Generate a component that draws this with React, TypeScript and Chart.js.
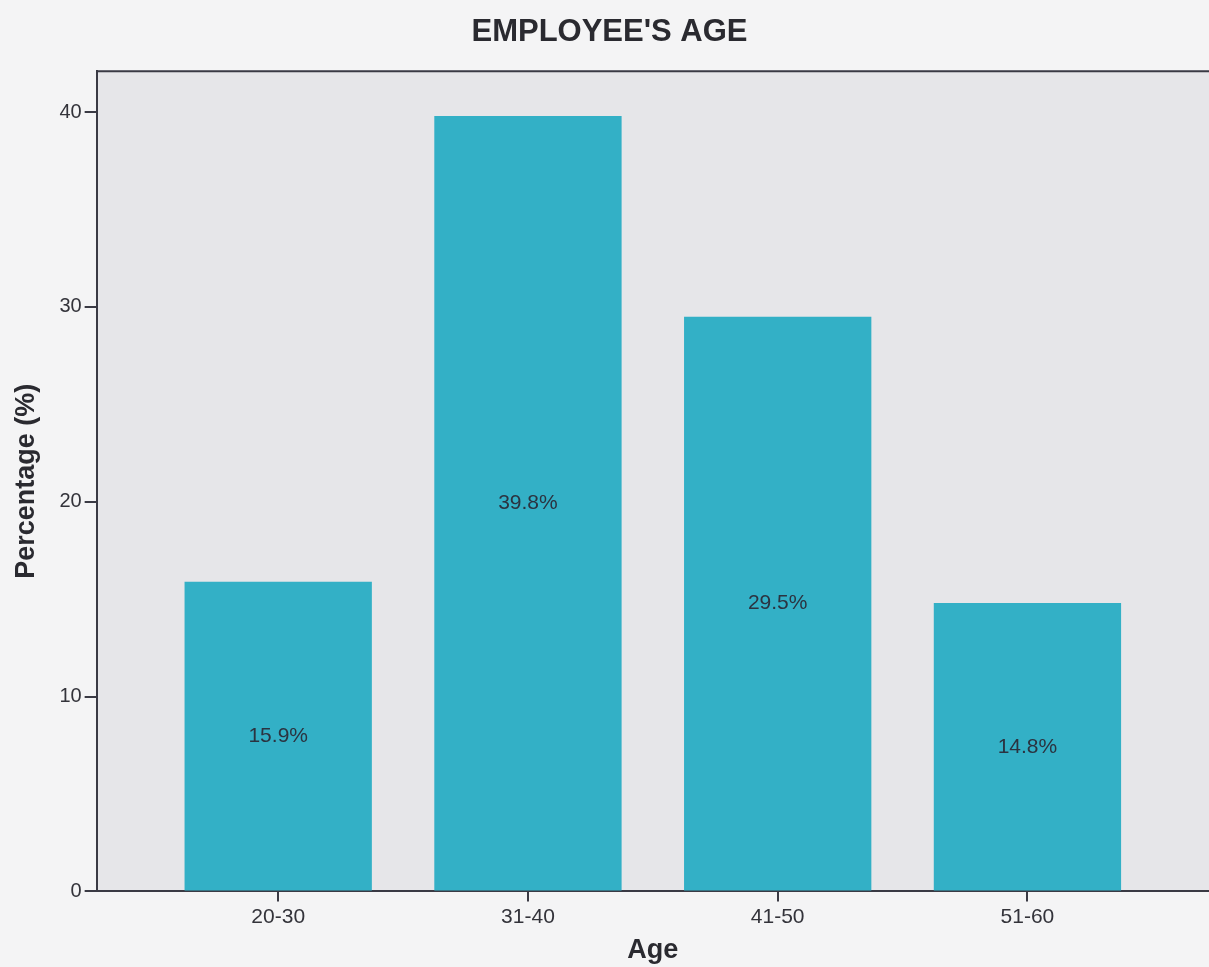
import React, { useEffect, useRef } from "react";
import { Chart, registerables } from "chart.js";

Chart.register(...registerables);

const categories = ["20-30", "31-40", "41-50", "51-60"];
const percentages = [15.9, 39.8, 29.5, 14.8];
const yTicks = [0, 10, 20, 30, 40];

const PLOT_BG = "#e6e6e9";
const PAGE_BG = "#f4f4f5";
const BAR_COLOR = "#33b0c6";
const AXIS_COLOR = "#3a3a44";
const FONT = "'Liberation Sans', Arial, sans-serif";

const backgroundPlugin = {
  id: "bgPlugin",
  beforeDraw(chart: any) {
    const { ctx, chartArea, width, height } = chart;
    ctx.save();
    ctx.fillStyle = PAGE_BG;
    ctx.fillRect(0, 0, width, height);
    ctx.fillStyle = PLOT_BG;
    ctx.fillRect(chartArea.left, chartArea.top, chartArea.right - chartArea.left, chartArea.bottom - chartArea.top);
    ctx.restore();
  },
  afterDraw(chart: any) {
    const { ctx, chartArea } = chart;
    ctx.save();
    ctx.strokeStyle = AXIS_COLOR;
    ctx.lineWidth = 2;
    ctx.beginPath();
    ctx.moveTo(chartArea.left, chartArea.top);
    ctx.lineTo(chartArea.right, chartArea.top);
    ctx.stroke();
    ctx.restore();
  },
};

const labelPlugin = {
  id: "barLabels",
  afterDatasetsDraw(chart: any) {
    const { ctx } = chart;
    const meta = chart.getDatasetMeta(0);
    ctx.save();
    ctx.fillStyle = "#2b3340";
    ctx.font = "21px " + FONT;
    ctx.textAlign = "center";
    ctx.textBaseline = "middle";
    meta.data.forEach((bar: any, i: number) => {
      const y = (bar.y + bar.base) / 2;
      ctx.fillText(percentages[i].toFixed(1) + "%", bar.x, y);
    });
    ctx.restore();
  },
};

export default function App() {
  const ref = useRef<HTMLCanvasElement>(null);

  useEffect(() => {
    document.body.style.margin = "0";
    const chart = new Chart(ref.current!, {
      type: "bar",
      data: {
        datasets: [
          {
            data: percentages.map((v, i) => ({ x: i + 1, y: v })),
            backgroundColor: BAR_COLOR,
            borderWidth: 0,
            barPercentage: 0.75,
            categoryPercentage: 1,
          },
        ],
      },
      options: {
        animation: false,
        responsive: false,
        layout: { padding: { top: 2, right: 0, left: 10, bottom: 0 } },
        plugins: {
          legend: { display: false },
          tooltip: { enabled: false },
          title: {
            display: true,
            text: "EMPLOYEE'S AGE",
            color: "#2a2a30",
            font: { family: FONT, size: 31, weight: "bold" },
            padding: { top: 12, bottom: 20 },
          },
        },
        scales: {
          x: {
            type: "linear",
            offset: false,
            min: 0.273,
            max: 4.727,
            afterBuildTicks(axis: any) {
              axis.ticks = categories.map((_, i) => ({ value: i + 1 }));
            },
            ticks: {
              color: "#33333a",
              font: { family: FONT, size: 21 },
              padding: 3,
              callback: (v: any) => categories[Math.round(Number(v)) - 1] ?? "",
            },
            grid: { offset: false, drawOnChartArea: false, drawTicks: true, tickLength: 10, color: AXIS_COLOR, lineWidth: 2 },
            border: { display: true, color: AXIS_COLOR, width: 2 },
            title: {
              display: true,
              text: "Age",
              color: "#2a2a30",
              font: { family: FONT, size: 27, weight: "bold" },
              padding: { top: 2, bottom: 0 },
            },
          },
          y: {
            min: 0,
            max: 42.1,
            afterBuildTicks(axis: any) {
              axis.ticks = yTicks.map((v) => ({ value: v }));
            },
            ticks: {
              color: "#33333a",
              font: { family: FONT, size: 20 },
              padding: 3,
            },
            grid: { drawOnChartArea: false, drawTicks: true, tickLength: 12, color: AXIS_COLOR, lineWidth: 2 },
            border: { display: true, color: AXIS_COLOR, width: 2 },
            title: {
              display: true,
              text: "Percentage (%)",
              color: "#2a2a30",
              font: { family: FONT, size: 27, weight: "bold" },
              padding: { top: 0, bottom: 14 },
            },
          },
        },
      },
      plugins: [backgroundPlugin, labelPlugin],
    } as any);
    return () => chart.destroy();
  }, []);

  return (
    <div style={{ position: "absolute", left: 0, top: 0, width: 1209, height: 967 }}>
      <canvas ref={ref} width={1209} height={967} style={{ display: "block" }} />
    </div>
  );
}
